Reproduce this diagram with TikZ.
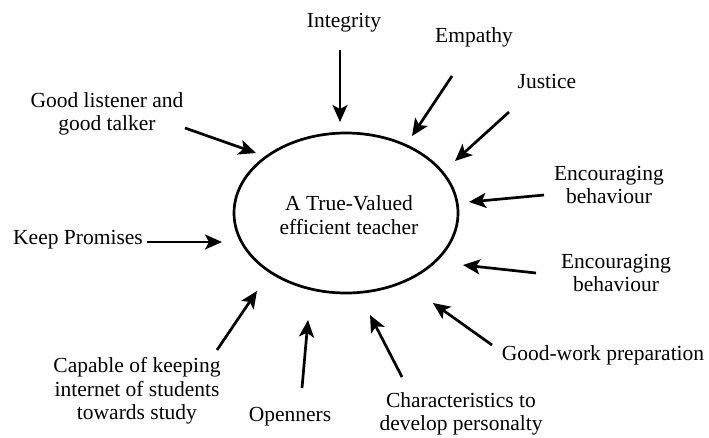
\documentclass[tikz,border=0pt]{standalone}
\usepackage{fontspec}
\setmainfont{Liberation Serif}
\usetikzlibrary{arrows.meta,shapes.geometric}
\begin{document}
\begin{tikzpicture}[x=1pt,y=-1pt,
  trait/.style={align=center,inner sep=0pt,font=\fontsize{21.5}{23.5}\selectfont},
  core/.style={draw,ellipse,line width=2.7pt,inner sep=0pt,
    minimum width=224pt,minimum height=160pt,align=center,
    font=\fontsize{21.5}{23}\selectfont},
  pointer/.style={line width=2.7pt,-{Stealth[length=17pt,width=15pt,inset=4pt]}}]
\useasboundingbox (0,0) rectangle (709,437);
\fill[white] (0,0) rectangle (709,437);

% central ellipse
\node[core] (teacher) at (346,213) {};
\node[trait] (title) at (349,215) {A True-Valued\\efficient teacher};

% qualities around it
\node[trait] (integrity) at (344,23) {Integrity};
\node[trait] (empathy) at (474,37) {Empathy};
\node[trait] (justice) at (547,81) {Justice};
\node[trait] (enc1) at (609,185) {Encouraging\\behaviour};
\node[trait] (listener) at (107,114) {Good listener and\\good talker};
\node[trait,anchor=west] (promises) at (13,240) {Keep Promises};
\node[trait] (enc2) at (616,273) {Encouraging\\behaviour};
\node[trait] (work) at (603,355) {Good-work preparation};
\node[trait,font=\fontsize{21.5}{22.5}\selectfont] (charac) at (461,414) {Characteristics to\\develop personalty};
\node[trait] (open) at (290,417) {Openners};
\node[trait] (capable) at (137,391) {Capable of keeping\\internet of students\\towards study};

% arrow ends
\coordinate (s1) at (340,50);  \coordinate (t1) at (340,122);
\coordinate (s2) at (452,76);  \coordinate (t2) at (412,136);
\coordinate (s3) at (509,112); \coordinate (t3) at (455,161);
\coordinate (s4) at (544,195); \coordinate (t4) at (469,202);
\coordinate (s5) at (185,128); \coordinate (t5) at (256,153);
\coordinate (s6) at (147,242); \coordinate (t6) at (222,242);
\coordinate (s7) at (536,273); \coordinate (t7) at (463,265);
\coordinate (s8) at (492,345); \coordinate (t8) at (433,303);
\coordinate (s9) at (402,377); \coordinate (t9) at (370,315);
\coordinate (s10) at (302,388); \coordinate (t10) at (308,320);
\coordinate (s11) at (217,350); \coordinate (t11) at (257,291);

\foreach \i in {1,...,11} \draw[pointer] (s\i) -- (t\i);
\end{tikzpicture}
\end{document}
